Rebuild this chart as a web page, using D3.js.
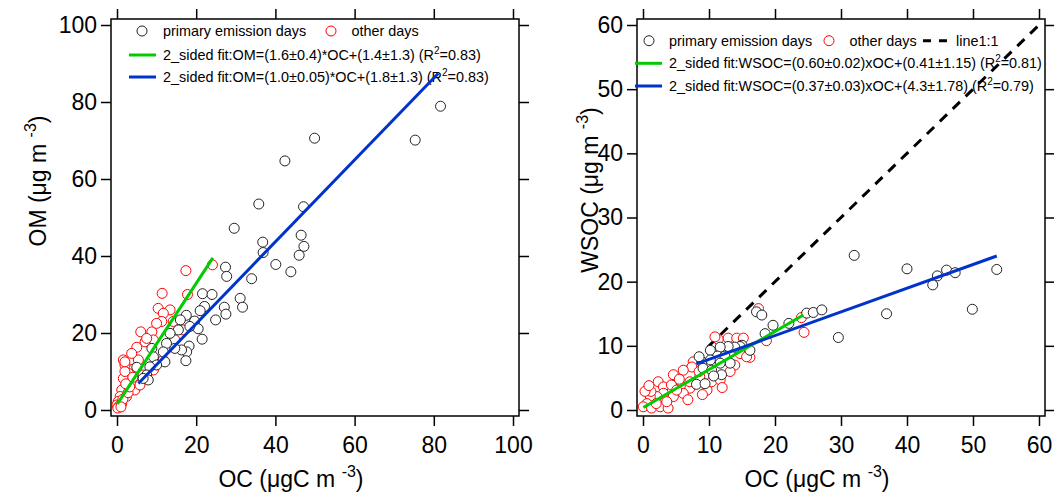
<!DOCTYPE html>
<html>
<head>
<meta charset="utf-8">
<script src="https://cdn.jsdelivr.net/npm/d3@7"></script>
<style>
  body { margin: 0; background: #fff; }
  text { font-family: "Liberation Sans", Arial, sans-serif; }
</style>
</head>
<body>
<svg id="chart" width="1054" height="495"></svg>
<script>
// ---- left panel: OM vs OC ----
const omPrimary = [
  [81.7, 78.9], [75.3, 70.1], [49.9, 70.6], [42.4, 64.7], [35.8, 53.5], [47.1, 52.8],
  [29.6, 47.2], [46.5, 45.4], [36.8, 43.6], [47.2, 42.5], [36.9, 40.9], [46.0, 40.2],
  [40.1, 37.8], [43.9, 35.9], [34.0, 34.1], [27.4, 37.1], [27.7, 34.7], [21.6, 30.2],
  [24.0, 30.0], [31.1, 29.0], [31.7, 26.7], [27.1, 26.7], [27.5, 24.9], [24.9, 23.4],
  [22.1, 26.9], [21.0, 25.8], [17.5, 24.6], [16.0, 23.4], [19.6, 23.1], [20.5, 21.1],
  [21.5, 18.4], [18.4, 21.7], [15.5, 20.8], [13.4, 19.9], [18.2, 16.6], [17.6, 15.1],
  [17.4, 12.8], [16.3, 15.6], [14.6, 16.0], [12.5, 17.3], [11.7, 15.1], [8.8, 16.0],
  [9.2, 13.8], [12.1, 12.5], [10.0, 11.7], [8.3, 11.2], [5.0, 11.1], [7.5, 9.1],
  [7.9, 7.8], [6.6, 8.2]
];
const omOther = [
  [17.4, 36.2], [24.1, 37.7], [11.4, 30.3], [17.8, 30.0], [10.4, 26.4], [13.4, 26.0],
  [11.7, 25.1], [11.3, 23.0], [6.0, 20.3], [8.8, 20.3], [9.2, 18.2], [5.0, 16.3],
  [7.1, 17.7], [3.3, 13.0], [2.0, 11.7], [5.4, 13.0], [2.9, 9.5], [1.6, 8.2],
  [3.7, 7.4], [1.2, 5.2], [0.8, 3.5], [0.3, 2.2], [0.0, 1.3], [1.2, 1.7],
  [2.4, 3.5], [4.5, 5.2], [5.8, 6.5], [6.6, 9.1], [9.2, 10.4], [11.7, 13.0],
  [13.4, 16.4], [14.6, 18.2], [16.7, 20.8], [14.2, 23.0], [10.0, 22.5], [7.5, 18.6],
  [3.7, 14.7], [1.6, 13.0], [2.0, 10.0], [0.5, 1.0], [1.5, 2.8], [2.8, 4.5],
  [3.2, 6.0], [4.0, 8.5], [2.2, 6.8], [0.2, 0.5], [1.0, 0.8], [2.0, 12.5]
];
const omFitGreen = [[0.1, 1.6], [24.2, 39.5]];
const omFitBlue = [[5.4, 6.9], [81.1, 87.4]];
const omTicks = [0, 20, 40, 60, 80, 100];
const omLegend = [
  "2_sided fit:OM=(1.6\u00b10.4)*OC+(1.4\u00b11.3) (R",
  "2_sided fit:OM=(1.0\u00b10.05)*OC+(1.8\u00b11.3) (R"
];
const omR2 = ["=0.83)", "=0.83)"];

// ---- right panel: WSOC vs OC ----
const wsocPrimary = [
  [32.0, 24.1], [40.0, 22.0], [44.6, 20.9], [46.0, 21.8], [47.3, 21.4], [43.9, 19.5],
  [53.6, 21.9], [36.9, 15.0], [49.9, 15.7], [29.6, 11.3], [17.2, 15.3], [18.0, 14.8],
  [24.8, 15.1], [25.8, 15.2], [27.1, 15.6], [19.7, 13.2], [22.1, 13.5], [18.5, 11.9],
  [16.2, 9.3], [15.0, 10.1], [14.7, 9.9], [13.9, 9.8], [12.9, 9.9], [11.7, 9.8],
  [10.2, 9.3], [11.3, 8.4], [12.4, 8.4], [13.2, 7.3], [11.7, 7.3], [10.2, 7.8],
  [8.9, 7.5], [9.1, 6.5], [10.4, 6.2], [11.9, 5.5], [10.7, 5.3], [8.1, 4.0],
  [9.4, 4.1], [8.5, 8.3]
];
const wsocOther = [
  [17.5, 15.8], [24.0, 14.4], [24.4, 12.1], [18.7, 10.8], [16.2, 8.2], [14.7, 8.8],
  [11.4, 11.0], [12.9, 11.2], [14.2, 11.2], [15.7, 8.3], [13.9, 7.0], [7.6, 7.5],
  [7.4, 6.7], [6.1, 6.2], [4.6, 5.5], [2.3, 4.4], [3.1, 3.6], [4.3, 3.9],
  [5.9, 3.6], [7.1, 3.4], [9.7, 3.1], [10.4, 4.4], [6.1, 2.6], [4.6, 2.1],
  [3.1, 2.6], [2.1, 2.1], [1.1, 2.1], [0.6, 1.0], [0.05, 0.5], [1.3, 0.3],
  [2.6, 0.5], [3.8, 0.3], [3.6, 1.3], [5.1, 3.1], [1.2, 2.9], [0.3, 2.9],
  [7.1, 4.4], [8.6, 5.2], [11.7, 4.7], [13.2, 6.0], [10.9, 11.4], [15.2, 11.2],
  [8.5, 6.0], [5.5, 4.8], [2.0, 1.0], [0.9, 3.8], [9.0, 2.4], [6.8, 1.6], [12.0, 3.5]
];
const wsocFitGreen = [[0.05, 0.4], [24.3, 14.8]];
const wsocFitBlue = [[8.1, 7.2], [53.6, 24.0]];
const oneToOne = [[0, 0], [60, 60]];
const wsocTicks = [0, 10, 20, 30, 40, 50, 60];
const wsocLegend = [
  "2_sided fit:WSOC=(0.60\u00b10.02)xOC+(0.41\u00b11.15) (R",
  "2_sided fit:WSOC=(0.37\u00b10.03)xOC+(4.3\u00b11.78) (R"
];
const wsocR2 = ["=0.81)", "=0.79)"];

const GREEN = "#00cc00";
const BLUE = "#0033cc";
const RED = "#ff0000";
const DARK = "#222";
const R = 5;

const svg = d3.select("#chart");

function superText(g, x, y, main, sup, tail, size, supSize, anchor, rotate) {
  let t = g.append("text")
    .attr("font-size", size)
    .attr("text-anchor", anchor)
    .attr("fill", "#000");
  if (rotate) {
    t.attr("transform", `translate(${x},${y}) rotate(-90)`);
  } else {
    t.attr("x", x).attr("y", y);
  }
  t.append("tspan").text(main);
  t.append("tspan").attr("font-size", supSize).attr("dy", -size * 0.45).text(sup);
  t.append("tspan").attr("dy", size * 0.45).text(tail);
  return t;
}

function drawPanel(p) {
  const x = d3.scaleLinear().domain(p.xDomain).range([p.left, p.right]);
  const y = d3.scaleLinear().domain(p.yDomain).range([p.bottom, p.top]);
  const g = svg.append("g");

  const styleAxis = (a, labels) => {
    a.select(".domain").remove();
    a.selectAll("line").attr("stroke", "#000").attr("stroke-width", 1.5);
    a.selectAll("text").attr("font-size", 23).attr("fill", "#000")
      .attr("font-family", '"Liberation Sans", Arial, sans-serif');
    if (!labels) a.selectAll("text").remove();
  };

  g.append("g").attr("transform", `translate(0,${p.bottom})`)
    .call(d3.axisBottom(x).tickValues(p.xTicks).tickSize(10).tickPadding(11))
    .call(a => styleAxis(a, true));
  g.append("g").attr("transform", `translate(0,${p.top})`)
    .call(d3.axisTop(x).tickValues(p.xTicks).tickSize(10))
    .call(a => styleAxis(a, false));
  g.append("g").attr("transform", `translate(${p.left},0)`)
    .call(d3.axisLeft(y).tickValues(p.yTicks).tickSize(10).tickPadding(4))
    .call(a => styleAxis(a, true));
  g.append("g").attr("transform", `translate(${p.right},0)`)
    .call(d3.axisRight(y).tickValues(p.yTicks).tickSize(10))
    .call(a => styleAxis(a, false));

  g.append("rect")
    .attr("x", p.left).attr("y", p.top)
    .attr("width", p.right - p.left).attr("height", p.bottom - p.top)
    .attr("fill", "none").attr("stroke", "#000").attr("stroke-width", 1.5);

  // legend (drawn under the data, like the original)
  const lg = g.append("g");
  const fs = 14.4;
  const row0 = p.legendRows[0];
  lg.append("circle").attr("cx", p.legendDot1).attr("cy", row0).attr("r", R)
    .attr("fill", "none").attr("stroke", DARK);
  lg.append("text").attr("x", p.legendText).attr("y", row0 + 5).attr("font-size", fs)
    .text("primary emission days");
  lg.append("circle").attr("cx", p.legendDot2).attr("cy", row0).attr("r", R)
    .attr("fill", "none").attr("stroke", RED);
  lg.append("text").attr("x", p.legendDot2 + 20.5).attr("y", row0 + 5).attr("font-size", fs)
    .text("other days");
  if (p.dashLegend) {
    lg.append("line").attr("x1", p.dashLegend).attr("x2", p.dashLegend + 25)
      .attr("y1", row0).attr("y2", row0)
      .attr("stroke", "#000").attr("stroke-width", 3).attr("stroke-dasharray", "8,8");
    lg.append("text").attr("x", p.dashLegend + 33).attr("y", row0 + 5).attr("font-size", fs)
      .text("line1:1");
  }
  [GREEN, BLUE].forEach((c, i) => {
    const ry = p.legendRows[i + 1];
    lg.append("line").attr("x1", p.legendLine).attr("x2", p.legendLine + 27)
      .attr("y1", ry).attr("y2", ry).attr("stroke", c).attr("stroke-width", 3);
    superText(lg, p.legendText, ry + 5, p.legendLabels[i], "2", p.r2Labels[i], fs, 10, "start", false);
  });

  const line = d3.line().x(d => x(d[0])).y(d => y(d[1]));

  if (p.oneToOne) {
    g.append("path").datum(p.oneToOne).attr("d", line)
      .attr("fill", "none").attr("stroke", "#000").attr("stroke-width", 3)
      .attr("stroke-dasharray", "10,8");
  }

  g.append("g").selectAll("circle").data(p.other).join("circle")
    .attr("cx", d => x(d[0])).attr("cy", d => y(d[1])).attr("r", R)
    .attr("fill", "#fff").attr("stroke", RED).attr("stroke-width", 1);
  g.append("g").selectAll("circle").data(p.primary).join("circle")
    .attr("cx", d => x(d[0])).attr("cy", d => y(d[1])).attr("r", R)
    .attr("fill", "#fff").attr("stroke", DARK).attr("stroke-width", 1);

  g.append("path").datum(p.fitGreen).attr("d", line)
    .attr("fill", "none").attr("stroke", GREEN).attr("stroke-width", 3);
  g.append("path").datum(p.fitBlue).attr("d", line)
    .attr("fill", "none").attr("stroke", BLUE).attr("stroke-width", 3);

  // axis titles
  superText(g, p.xTitleX, 487, "OC (\u03bcgC m ", "-3", ")", 23, 16, "middle", false);
  superText(g, p.yTitleX, p.yTitleY, p.yTitle, "-3", ")", 23, 16, "middle", true);
}

drawPanel({
  left: 111, right: 519, top: 19, bottom: 416,
  xDomain: [-1.515, 101.515], yDomain: [-1.56, 101.56],
  xTicks: omTicks, yTicks: omTicks,
  primary: omPrimary, other: omOther,
  fitGreen: omFitGreen, fitBlue: omFitBlue,
  legendRows: [31, 55, 77], legendDot1: 142, legendDot2: 331,
  legendText: 163, legendLine: 129,
  legendLabels: omLegend, r2Labels: omR2,
  xTitleX: 291, yTitleX: 46, yTitleY: 181, yTitle: "OM (\u03bcg m "
});

drawPanel({
  left: 637, right: 1045, top: 19, bottom: 416,
  xDomain: [-0.91, 60.91], yDomain: [-0.935, 60.935],
  xTicks: wsocTicks, yTicks: wsocTicks,
  primary: wsocPrimary, other: wsocOther,
  fitGreen: wsocFitGreen, fitBlue: wsocFitBlue, oneToOne: oneToOne,
  legendRows: [40.7, 63.3, 86], legendDot1: 649, legendDot2: 829,
  legendText: 669, legendLine: 635, dashLegend: 923,
  legendLabels: wsocLegend, r2Labels: wsocR2,
  xTitleX: 817, yTitleX: 598, yTitleY: 190, yTitle: "WSOC (\u03bcg m "
});
</script>
</body>
</html>
